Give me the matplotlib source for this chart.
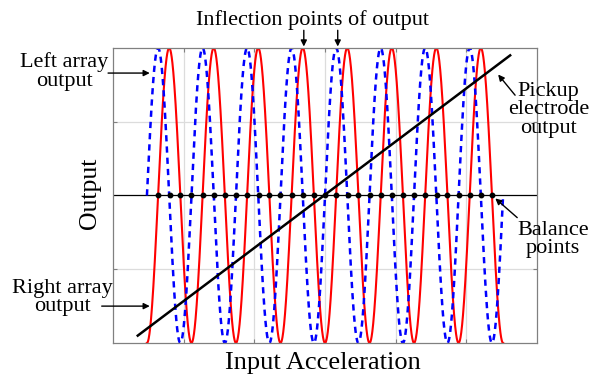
import numpy as np
import matplotlib
matplotlib.use("Agg")
import matplotlib.pyplot as plt

plt.rcParams["font.family"] = ["Liberation Serif", "DejaVu Serif"]

# sensor sweep: both arrays run eight cycles across the input range
WAVE_START = 0.48
WAVE_END = 5.52
N_CYCLES = 8

# pickup electrode output (linear)
pickup_x = [0.35, 5.62]
pickup_y = [-0.95, 0.95]

# balance points on the zero line
balance_x = [0.64, 0.80, 0.95, 1.11, 1.27, 1.43, 1.58, 1.74, 1.90, 2.06,
             2.21, 2.37, 2.53, 2.69, 2.84, 3.00, 3.16, 3.32, 3.47, 3.63,
             3.79, 3.95, 4.10, 4.26, 4.42, 4.58, 4.73, 4.89, 5.05, 5.21, 5.36]

GRID_X = [1, 2, 3, 4, 5]
GRID_Y = [-0.5, 0.5]

fig = plt.figure(figsize=(5.92, 3.77), dpi=100)
ax = fig.add_axes([0.1909, 0.0902, 0.7162, 0.7825])

x = np.linspace(WAVE_START, WAVE_END, 2000)
phase = 2 * np.pi * N_CYCLES * (x - WAVE_START) / (WAVE_END - WAVE_START)
left_out = np.sin(phase)
right_out = -np.cos(phase)

for g in GRID_X:
    ax.axvline(g, color="#dcdcdc", lw=0.9, zorder=0)
for g in GRID_Y:
    ax.axhline(g, color="#dcdcdc", lw=0.9, zorder=0)
ax.axhline(0, color="black", lw=0.9, zorder=1)

ax.plot(x, right_out, color="red", lw=1.5, zorder=2)
ax.plot(x, left_out, color="blue", lw=1.8, ls=(0, (2.5, 2)), zorder=2)
ax.plot(pickup_x, pickup_y, color="black", lw=1.8, zorder=3)
ax.plot(balance_x, np.zeros(len(balance_x)), "o", color="black", ms=3.2, zorder=4)

ax.set_xlim(0, 6)
ax.set_ylim(-1, 1)
ax.set_xticks(GRID_X)
ax.set_yticks(GRID_Y)
ax.tick_params(direction="in", length=3, color="#808080", top=True, right=True,
               labelbottom=False, labelleft=False)
for s in ax.spines.values():
    s.set_color("#808080")
    s.set_linewidth(0.9)

arrow = dict(arrowstyle="-|>", color="black", lw=1.0, mutation_scale=9,
             shrinkA=0, shrinkB=0)
fs = 16
ls = 0.95

ax.text(2.83, 1.19, "Inflection points of output", ha="center", va="center",
        fontsize=fs, clip_on=False)
ax.annotate("", xy=(2.70, 1.01), xytext=(2.70, 1.12), arrowprops=arrow,
            annotation_clip=False)
ax.annotate("", xy=(3.18, 1.01), xytext=(3.18, 1.12), arrowprops=arrow,
            annotation_clip=False)

ax.text(-0.69, 0.84, "Left array\noutput", ha="center", va="center",
        fontsize=fs, linespacing=ls, clip_on=False)
ax.annotate("", xy=(0.52, 0.83), xytext=(-0.07, 0.83), arrowprops=arrow,
            annotation_clip=False)

ax.text(-0.71, -0.69, "Right array\noutput", ha="center", va="center",
        fontsize=fs, linespacing=ls, clip_on=False)
ax.annotate("", xy=(0.52, -0.75), xytext=(-0.16, -0.75), arrowprops=arrow,
            annotation_clip=False)

ax.text(6.16, 0.58, "Pickup\nelectrode\noutput", ha="center", va="center",
        fontsize=fs, linespacing=ls, clip_on=False)
ax.annotate("", xy=(5.45, 0.82), xytext=(5.69, 0.68), arrowprops=arrow,
            annotation_clip=False)

ax.text(6.23, -0.30, "Balance\npoints", ha="center", va="center",
        fontsize=fs, linespacing=ls, clip_on=False)
ax.annotate("", xy=(5.41, -0.02), xytext=(5.72, -0.15), arrowprops=arrow,
            annotation_clip=False)

fig.text(90 / 592, 1 - 193 / 377, "Output", rotation=90, ha="center", va="center",
         fontsize=18.5)
fig.text(323 / 592, 1 - 363 / 377, "Input Acceleration", ha="center", va="center",
         fontsize=19)

fig.savefig("out.png", dpi=100)
